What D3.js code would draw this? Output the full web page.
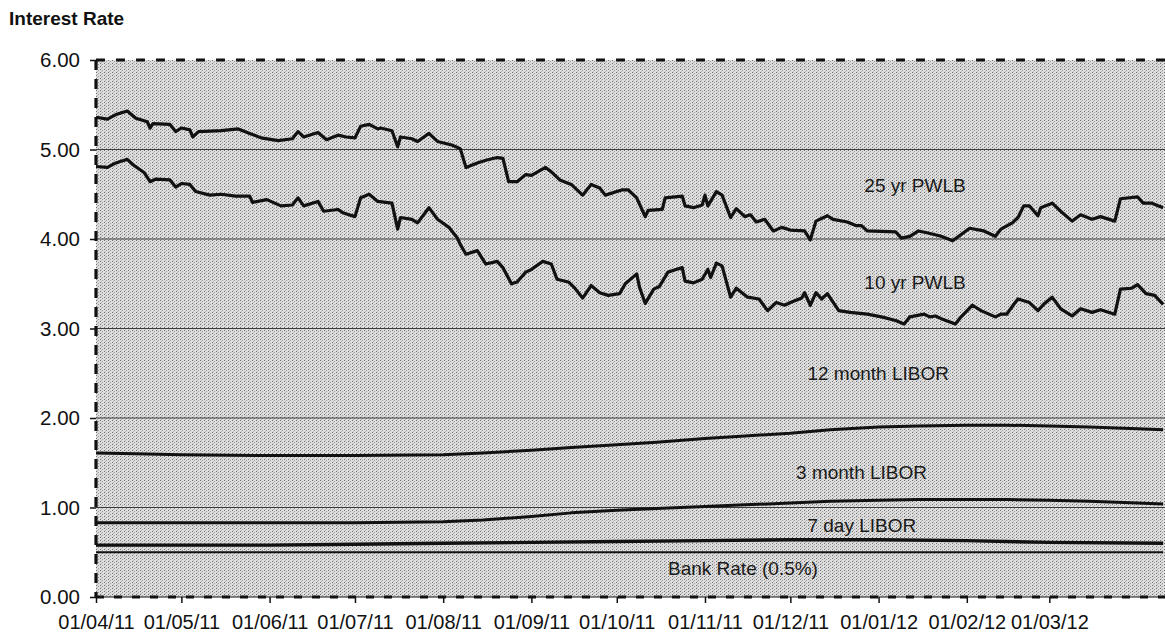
<!DOCTYPE html>
<html>
<head>
<meta charset="utf-8">
<script src="https://cdn.jsdelivr.net/npm/d3@7/dist/d3.min.js"></script>
<style>
  html, body { margin: 0; padding: 0; background: #ffffff; }
  svg { display: block; font-family: "Liberation Sans", Arial, sans-serif; }
</style>
</head>
<body>
<svg id="chart" width="1165" height="635"></svg>
<script>
// ---------- DATA ----------
const title = "Interest Rate";
const yTicks = [0, 1, 2, 3, 4, 5, 6];
const xTickDates = ["2011-04-01","2011-05-01","2011-06-01","2011-07-01","2011-08-01","2011-09-01",
                    "2011-10-01","2011-11-01","2011-12-01","2012-01-01","2012-02-01","2012-03-01"];
const xDomain = ["2011-04-01", "2012-04-11"];

const pwlb25 = [
["2011-04-01",5.36],["2011-04-05",5.34],["2011-04-08",5.39],["2011-04-12",5.43],["2011-04-15",5.35],
["2011-04-19",5.31],["2011-04-20",5.24],["2011-04-21",5.29],["2011-04-27",5.28],["2011-04-29",5.20],
["2011-05-01",5.24],["2011-05-04",5.22],["2011-05-05",5.14],["2011-05-07",5.20],["2011-05-15",5.21],
["2011-05-21",5.23],["2011-05-25",5.18],["2011-05-29",5.13],["2011-06-04",5.10],["2011-06-09",5.12],
["2011-06-11",5.20],["2011-06-13",5.14],["2011-06-18",5.19],["2011-06-21",5.11],["2011-06-25",5.16],
["2011-06-28",5.14],["2011-07-01",5.13],["2011-07-03",5.26],["2011-07-06",5.28],["2011-07-09",5.23],
["2011-07-10",5.24],["2011-07-14",5.21],["2011-07-16",5.03],["2011-07-17",5.14],["2011-07-21",5.12],
["2011-07-23",5.09],["2011-07-27",5.18],["2011-07-30",5.09],["2011-08-04",5.05],["2011-08-07",5.01],
["2011-08-09",4.80],["2011-08-13",4.85],["2011-08-16",4.88],["2011-08-20",4.91],["2011-08-22",4.90],
["2011-08-24",4.64],["2011-08-27",4.64],["2011-08-30",4.72],["2011-09-01",4.71],["2011-09-06",4.80],
["2011-09-08",4.75],["2011-09-11",4.66],["2011-09-15",4.61],["2011-09-19",4.49],["2011-09-22",4.61],
["2011-09-25",4.57],["2011-09-27",4.49],["2011-10-03",4.55],["2011-10-05",4.55],["2011-10-08",4.46],
["2011-10-11",4.25],["2011-10-12",4.32],["2011-10-17",4.33],["2011-10-18",4.46],["2011-10-24",4.48],
["2011-10-25",4.37],["2011-10-28",4.35],["2011-10-31",4.38],["2011-11-01",4.49],["2011-11-02",4.37],
["2011-11-05",4.53],["2011-11-07",4.49],["2011-11-10",4.24],["2011-11-12",4.34],["2011-11-15",4.25],
["2011-11-17",4.27],["2011-11-19",4.19],["2011-11-22",4.22],["2011-11-25",4.09],["2011-11-28",4.13],
["2011-12-01",4.10],["2011-12-06",4.09],["2011-12-08",3.99],["2011-12-10",4.20],["2011-12-14",4.26],
["2011-12-16",4.22],["2011-12-21",4.19],["2011-12-24",4.15],["2011-12-26",4.15],["2011-12-28",4.09],
["2012-01-07",4.08],["2012-01-09",4.01],["2012-01-12",4.03],["2012-01-15",4.09],["2012-01-18",4.07],
["2012-01-23",4.03],["2012-01-27",3.98],["2012-01-30",4.05],["2012-02-02",4.12],["2012-02-07",4.09],
["2012-02-11",4.03],["2012-02-13",4.11],["2012-02-17",4.18],["2012-02-19",4.24],["2012-02-21",4.37],
["2012-02-23",4.37],["2012-02-26",4.26],["2012-02-27",4.35],["2012-03-02",4.40],["2012-03-05",4.31],
["2012-03-09",4.20],["2012-03-12",4.27],["2012-03-16",4.22],["2012-03-19",4.25],["2012-03-24",4.20],
["2012-03-26",4.45],["2012-04-01",4.47],["2012-04-03",4.40],["2012-04-06",4.40],["2012-04-10",4.35]
];

const pwlb10 = [
["2011-04-01",4.81],["2011-04-05",4.80],["2011-04-08",4.85],["2011-04-12",4.89],["2011-04-14",4.83],
["2011-04-18",4.74],["2011-04-20",4.64],["2011-04-22",4.67],["2011-04-27",4.66],["2011-04-29",4.58],
["2011-05-01",4.62],["2011-05-04",4.61],["2011-05-06",4.53],["2011-05-11",4.49],["2011-05-15",4.50],
["2011-05-20",4.48],["2011-05-25",4.48],["2011-05-26",4.41],["2011-05-31",4.44],["2011-06-05",4.37],
["2011-06-09",4.38],["2011-06-11",4.46],["2011-06-13",4.37],["2011-06-18",4.42],["2011-06-20",4.31],
["2011-06-25",4.33],["2011-06-27",4.29],["2011-07-01",4.25],["2011-07-03",4.46],["2011-07-06",4.50],
["2011-07-09",4.42],["2011-07-14",4.40],["2011-07-16",4.11],["2011-07-17",4.24],["2011-07-21",4.22],
["2011-07-23",4.18],["2011-07-27",4.35],["2011-07-30",4.22],["2011-08-03",4.13],["2011-08-06",4.01],
["2011-08-07",3.94],["2011-08-09",3.83],["2011-08-13",3.87],["2011-08-16",3.72],["2011-08-20",3.75],
["2011-08-22",3.68],["2011-08-25",3.50],["2011-08-27",3.52],["2011-08-30",3.63],["2011-09-01",3.66],
["2011-09-05",3.75],["2011-09-08",3.72],["2011-09-10",3.55],["2011-09-14",3.52],["2011-09-16",3.46],
["2011-09-19",3.34],["2011-09-22",3.48],["2011-09-25",3.40],["2011-09-28",3.37],["2011-10-02",3.39],
["2011-10-04",3.50],["2011-10-08",3.61],["2011-10-09",3.46],["2011-10-11",3.28],["2011-10-14",3.44],
["2011-10-16",3.47],["2011-10-19",3.63],["2011-10-21",3.65],["2011-10-24",3.68],["2011-10-25",3.53],
["2011-10-28",3.51],["2011-10-31",3.55],["2011-11-02",3.66],["2011-11-03",3.57],["2011-11-05",3.73],
["2011-11-07",3.70],["2011-11-10",3.35],["2011-11-12",3.45],["2011-11-16",3.35],["2011-11-20",3.33],
["2011-11-23",3.20],["2011-11-26",3.29],["2011-11-29",3.26],["2011-12-01",3.29],["2011-12-05",3.34],
["2011-12-06",3.40],["2011-12-08",3.26],["2011-12-10",3.40],["2011-12-12",3.33],["2011-12-14",3.39],
["2011-12-18",3.20],["2011-12-22",3.18],["2011-12-28",3.16],["2012-01-02",3.13],["2012-01-07",3.09],
["2012-01-10",3.05],["2012-01-12",3.13],["2012-01-17",3.16],["2012-01-19",3.13],["2012-01-21",3.14],
["2012-01-23",3.11],["2012-01-28",3.05],["2012-01-30",3.13],["2012-02-03",3.26],["2012-02-06",3.20],
["2012-02-11",3.13],["2012-02-13",3.16],["2012-02-15",3.16],["2012-02-18",3.29],["2012-02-19",3.33],
["2012-02-23",3.29],["2012-02-26",3.20],["2012-02-28",3.27],["2012-03-02",3.35],["2012-03-05",3.22],
["2012-03-09",3.14],["2012-03-12",3.22],["2012-03-16",3.18],["2012-03-19",3.21],["2012-03-24",3.16],
["2012-03-26",3.44],["2012-03-30",3.45],["2012-04-01",3.49],["2012-04-04",3.39],["2012-04-07",3.37],
["2012-04-10",3.27]
];

const libor12m = [
["2011-04-01",1.61],["2011-04-15",1.60],["2011-05-01",1.59],["2011-06-01",1.58],["2011-07-01",1.58],
["2011-08-01",1.59],["2011-08-15",1.61],["2011-09-01",1.64],["2011-09-15",1.67],["2011-10-01",1.70],
["2011-10-15",1.73],["2011-11-01",1.77],["2011-11-15",1.80],["2011-12-01",1.83],["2011-12-15",1.87],
["2012-01-01",1.90],["2012-01-15",1.91],["2012-02-01",1.92],["2012-02-15",1.92],["2012-03-01",1.91],
["2012-03-15",1.90],["2012-04-01",1.88],["2012-04-10",1.87]
];

const libor3m = [
["2011-04-01",0.83],["2011-05-01",0.83],["2011-06-01",0.83],["2011-07-01",0.83],["2011-08-01",0.84],
["2011-08-15",0.86],["2011-09-01",0.90],["2011-09-15",0.94],["2011-10-01",0.97],["2011-10-15",0.99],
["2011-11-01",1.01],["2011-11-15",1.03],["2011-12-01",1.05],["2011-12-15",1.07],["2012-01-01",1.08],
["2012-01-15",1.09],["2012-02-01",1.09],["2012-02-15",1.09],["2012-03-01",1.08],["2012-03-15",1.07],
["2012-04-01",1.05],["2012-04-10",1.04]
];

const libor7d = [
["2011-04-01",0.58],["2011-05-01",0.58],["2011-06-01",0.58],["2011-07-01",0.59],["2011-08-01",0.60],
["2011-09-01",0.61],["2011-10-01",0.62],["2011-11-01",0.63],["2011-12-01",0.64],["2012-01-01",0.64],
["2012-02-01",0.63],["2012-03-01",0.61],["2012-04-10",0.60]
];

const bankRate = [["2011-04-01",0.50],["2012-04-10",0.50]];

const seriesLabels = [
  {text: "25 yr PWLB", date: "2011-12-27", value: 4.52},
  {text: "10 yr PWLB", date: "2011-12-27", value: 3.44},
  {text: "12 month LIBOR", date: "2011-12-07", value: 2.42},
  {text: "3 month LIBOR", date: "2011-12-03", value: 1.32},
  {text: "7 day LIBOR", date: "2011-12-07", value: 0.73},
  {text: "Bank Rate (0.5%)", date: "2011-10-19", value: 0.245}
];

// ---------- CHART ----------
const parse = d3.timeParse("%Y-%m-%d");
const fmt = d3.timeFormat("%d/%m/%y");
const svg = d3.select("#chart");
const pL = 96, pR = 1166, pT = 60, pB = 597;

const x = d3.scaleTime().domain(xDomain.map(parse)).range([pL, pR]);
const y = d3.scaleLinear().domain([0, 6]).range([pB, pT]);

// background pattern
const defs = svg.append("defs");
const pat = defs.append("pattern").attr("id", "dots").attr("patternUnits", "userSpaceOnUse")
  .attr("width", 4).attr("height", 3);
pat.append("rect").attr("width", 4).attr("height", 3).attr("fill", "#dedede");
pat.append("rect").attr("x", 0).attr("y", 0).attr("width", 1).attr("height", 1).attr("fill", "#707070");
pat.append("rect").attr("x", 2).attr("y", 1).attr("width", 1).attr("height", 1).attr("fill", "#9c9c9c");
pat.append("rect").attr("x", 1).attr("y", 2).attr("width", 1).attr("height", 1).attr("fill", "#b8b8b8");

svg.append("rect").attr("x", pL).attr("y", pT).attr("width", pR - pL).attr("height", pB - pT)
  .attr("fill", "url(#dots)");

// gridlines
svg.append("g").selectAll("line").data(yTicks.filter(v => v > 0 && v < 6)).join("line")
  .attr("x1", pL).attr("x2", pR).attr("y1", d => y(d)).attr("y2", d => y(d))
  .attr("stroke", "#3a3a3a").attr("stroke-width", 1);

// title
svg.append("text").attr("x", 9).attr("y", 25).attr("font-size", 19).attr("font-weight", "bold")
  .attr("fill", "#111").text(title);

// y axis
const yAxis = svg.append("g").attr("transform", `translate(${pL},0)`)
  .call(d3.axisLeft(y).tickValues(yTicks).tickFormat(d3.format(".2f")).tickSize(6).tickPadding(10));
yAxis.select(".domain").remove();
yAxis.selectAll("line").attr("stroke", "#111").attr("stroke-width", 1.5);
yAxis.selectAll("text").attr("font-size", 20.5).attr("fill", "#111")
  .attr("font-family", "Liberation Sans, Arial, sans-serif");

// x axis
const xAxis = svg.append("g").attr("transform", `translate(0,${pB})`)
  .call(d3.axisBottom(x).tickValues(xTickDates.map(parse)).tickFormat(fmt).tickSize(6).tickPadding(12));
xAxis.select(".domain").remove();
xAxis.selectAll("line").attr("stroke", "#111").attr("stroke-width", 1.5);
xAxis.selectAll("text").attr("font-size", 20).attr("fill", "#111")
  .attr("font-family", "Liberation Sans, Arial, sans-serif");

// plot border (dashed)
svg.append("line").attr("x1", pL).attr("x2", pR).attr("y1", pB).attr("y2", pB)
  .attr("stroke", "#111").attr("stroke-width", 1.2);
svg.append("line").attr("x1", pL).attr("x2", pR).attr("y1", pB).attr("y2", pB)
  .attr("stroke", "#111").attr("stroke-width", 3).attr("stroke-dasharray", "8,10");
svg.append("line").attr("x1", pL).attr("x2", pR).attr("y1", pT).attr("y2", pT)
  .attr("stroke", "#111").attr("stroke-width", 3.2).attr("stroke-dasharray", "9,11");
svg.append("line").attr("x1", pL).attr("x2", pL).attr("y1", pT).attr("y2", pB)
  .attr("stroke", "#111").attr("stroke-width", 3.2).attr("stroke-dasharray", "10,9");

// lines
const line = d3.line().x(d => x(parse(d[0]))).y(d => y(d[1]));
const series = [
  {data: pwlb25, w: 3.2},
  {data: pwlb10, w: 3.2},
  {data: libor12m, w: 3},
  {data: libor3m, w: 3},
  {data: libor7d, w: 3.4},
  {data: bankRate, w: 2}
];
svg.append("g").selectAll("path").data(series).join("path")
  .attr("d", d => line(d.data)).attr("fill", "none").attr("stroke", "#111")
  .attr("stroke-width", d => d.w).attr("stroke-linejoin", "round");

// series labels
svg.append("g").selectAll("text").data(seriesLabels).join("text")
  .attr("x", d => x(parse(d.date))).attr("y", d => y(d.value))
  .attr("font-size", 19).attr("fill", "#1a1a1a").text(d => d.text);
</script>
</body>
</html>
